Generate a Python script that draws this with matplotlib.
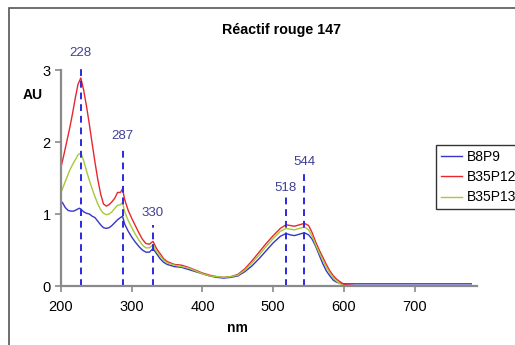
"""Absorbance spectra of Réactif rouge 147 (three samples) with marked peaks."""

import matplotlib

matplotlib.use("Agg")
import matplotlib.pyplot as plt
from matplotlib.patches import Rectangle

plt.rcParams["font.family"] = ["Liberation Sans", "DejaVu Sans"]

TITLE = "Réactif rouge 147"

# B8P9 (blue)
nm_b8p9 = [202, 206, 210, 214, 218, 222, 226, 228, 232, 236, 240, 244, 248, 252, 256, 260,
           264, 268, 272, 276, 280, 284, 287, 290, 295, 300, 305, 310, 315, 320, 325, 330,
           335, 340, 345, 350, 360, 370, 380, 390, 400, 410, 420, 430, 440, 450, 460, 470,
           480, 490, 500, 510, 518, 524, 530, 537, 544, 550, 555, 560, 565, 570, 575, 580,
           585, 590, 600, 625, 650, 700, 780]
au_b8p9 = [1.16, 1.09, 1.05, 1.04, 1.04, 1.06, 1.08, 1.07, 1.03, 1.01, 1.0, 0.97, 0.95, 0.9,
           0.85, 0.81, 0.8, 0.81, 0.84, 0.88, 0.92, 0.95, 0.97, 0.86, 0.76, 0.68, 0.61, 0.55,
           0.5, 0.47, 0.47, 0.52, 0.45, 0.38, 0.33, 0.3, 0.27, 0.26, 0.23, 0.2, 0.17, 0.14,
           0.12, 0.11, 0.12, 0.14, 0.2, 0.28, 0.38, 0.49, 0.6, 0.69, 0.73, 0.71, 0.70, 0.72,
           0.74, 0.71, 0.65, 0.55, 0.43, 0.31, 0.21, 0.14, 0.08, 0.05, 0.03, 0.03, 0.03, 0.03,
           0.03]

# B35P12 (red)
nm_b35p12 = [200, 204, 208, 212, 216, 220, 224, 228, 232, 236, 240, 244, 248, 252, 256,
             260, 264, 268, 272, 276, 280, 284, 287, 290, 295, 300, 305, 310, 315, 320, 325,
             330, 335, 340, 345, 350, 360, 370, 380, 390, 400, 410, 420, 430, 440, 450, 460,
             470, 480, 490, 500, 510, 518, 524, 530, 537, 544, 550, 555, 560, 565, 570, 575,
             580, 585, 590, 600, 620, 645, 660]
au_b35p12 = [1.65, 1.82, 2.0, 2.18, 2.38, 2.6, 2.8, 2.89, 2.72, 2.5, 2.25, 1.98, 1.72,
             1.48, 1.28, 1.14, 1.11, 1.13, 1.17, 1.22, 1.3, 1.3, 1.35, 1.2, 1.05, 0.94, 0.84,
             0.74, 0.65, 0.59, 0.58, 0.62, 0.52, 0.45, 0.38, 0.34, 0.3, 0.29, 0.26, 0.22,
             0.18, 0.15, 0.13, 0.12, 0.13, 0.16, 0.24, 0.35, 0.47, 0.59, 0.7, 0.8, 0.85,
             0.84, 0.83, 0.85, 0.87, 0.84, 0.74, 0.61, 0.5, 0.4, 0.3, 0.21, 0.14, 0.09, 0.02,
             0.0, -0.01, -0.01]

# B35P13 (green)
nm_b35p13 = [200, 204, 208, 212, 216, 220, 224, 228, 232, 236, 240, 244, 248, 252, 256,
             260, 264, 268, 272, 276, 280, 284, 287, 290, 295, 300, 305, 310, 315, 320, 325,
             330, 335, 340, 345, 350, 360, 370, 380, 390, 400, 410, 420, 430, 440, 450, 460,
             470, 480, 490, 500, 510, 518, 524, 530, 537, 544, 550, 555, 560, 565, 570, 575,
             580, 585, 590, 600, 650, 700, 760]
au_b35p13 = [1.3, 1.4, 1.5, 1.6, 1.68, 1.75, 1.82, 1.85, 1.74, 1.6, 1.47, 1.35, 1.24, 1.14,
             1.06, 1.01, 0.99, 1.0, 1.03, 1.08, 1.12, 1.13, 1.16, 1.03, 0.91, 0.81, 0.72,
             0.64, 0.57, 0.53, 0.53, 0.57, 0.48, 0.42, 0.36, 0.32, 0.29, 0.27, 0.25, 0.21,
             0.17, 0.14, 0.13, 0.12, 0.13, 0.15, 0.22, 0.32, 0.43, 0.55, 0.66, 0.76, 0.8,
             0.79, 0.78, 0.8, 0.82, 0.78, 0.69, 0.57, 0.46, 0.36, 0.26, 0.18, 0.11, 0.06, 0.0,
             -0.015, -0.015, -0.015]

SERIES = [
    ("B8P9", nm_b8p9, au_b8p9, "#3535c8"),
    ("B35P12", nm_b35p12, au_b35p12, "#e8262e"),
    ("B35P13", nm_b35p13, au_b35p13, "#a6c83a"),
]

peak_nm = [228, 287, 330, 518, 544]
peak_line_top = [3.07, 1.92, 0.85, 1.24, 1.61]
peak_label_y = [3.24, 2.08, 1.01, 1.36, 1.72]

x_ticks = [200, 300, 400, 500, 600, 700]
y_ticks = [0, 1, 2, 3]


def main() -> int:
    fig = plt.figure(figsize=(5.15, 3.45), dpi=100)
    fig.patch.set_facecolor("white")
    fig.patches.append(Rectangle((9 / 515, -0.1), 1.2, 1 - 8 / 345 + 0.1,
                                 transform=fig.transFigure, fill=False,
                                 edgecolor="#555555", linewidth=1.2))

    ax = fig.add_axes([61 / 515, 59 / 345, 416 / 515, 216 / 345])
    ax.set_facecolor("none")

    for label, xs, ys, color in SERIES:
        ax.plot(xs, ys, color=color, linewidth=1.0, label=label)

    for x, top, ly in zip(peak_nm, peak_line_top, peak_label_y):
        ax.plot([x, x], [0, top], color="#2a2ae0", linewidth=1.4,
                dashes=(3.5, 2.5), clip_on=False)
        ax.text(x, ly, str(x), color="#404098", fontsize=9.5, ha="center",
                va="center", clip_on=False)

    ax.set_xlim(200, 788)
    ax.set_ylim(0, 3)
    ax.set_xticks(x_ticks)
    ax.set_yticks(y_ticks)
    for side in ("top", "right"):
        ax.spines[side].set_visible(False)
    for side in ("left", "bottom"):
        ax.spines[side].set_color("#8a8a8a")
        ax.spines[side].set_linewidth(1.6)
    ax.tick_params(colors="#8a8a8a", labelcolor="black", labelsize=10.5,
                   length=4, width=1.2, direction="out")
    ax.tick_params(axis="x", pad=6)

    fig.text(282 / 515, 1 - 30 / 345, TITLE, ha="center", va="center",
             fontsize=10.3, fontweight="bold")
    fig.text(33 / 515, 1 - 95 / 345, "AU", ha="center", va="center",
             fontsize=10, fontweight="bold")
    fig.text(237 / 515, 1 - 328 / 345, "nm", ha="center", va="center",
             fontsize=10, fontweight="bold")

    leg = ax.legend(loc="upper left", bbox_to_anchor=(436 / 515, 1 - 145 / 345),
                    bbox_transform=fig.transFigure, borderaxespad=0,
                    fancybox=False, edgecolor="#333333", fontsize=10,
                    handlelength=1.5, handletextpad=0.4, labelspacing=0.45,
                    borderpad=0.35, framealpha=1)
    leg.get_frame().set_linewidth(1.0)

    fig.savefig("out.png", dpi=100)
    plt.close(fig)
    return 0


if __name__ == "__main__":
    raise SystemExit(main())
